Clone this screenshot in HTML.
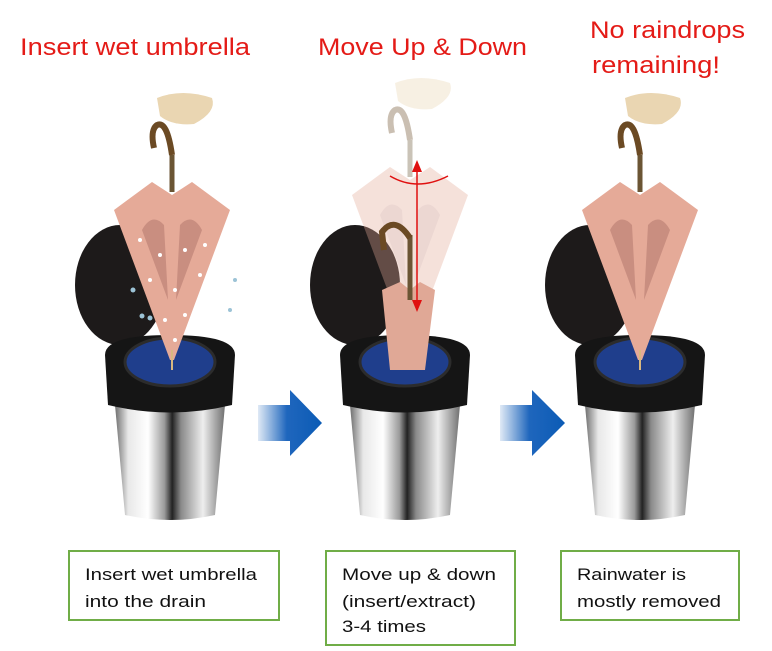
<!DOCTYPE html>
<html><head><style>
html,body{margin:0;padding:0;background:#fff;}
svg{display:block;}
text{font-family:"Liberation Sans",sans-serif;}
</style></head><body>
<svg width="772" height="651" viewBox="0 0 772 651" xmlns="http://www.w3.org/2000/svg">
<defs>
<linearGradient id="steel" x1="0" x2="1" y1="0" y2="0">
<stop offset="0" stop-color="#6e6e6e"/><stop offset="0.12" stop-color="#e8e8e8"/><stop offset="0.3" stop-color="#ffffff"/><stop offset="0.45" stop-color="#9a9a9a"/><stop offset="0.52" stop-color="#222"/><stop offset="0.6" stop-color="#8a8a8a"/><stop offset="0.8" stop-color="#eeeeee"/><stop offset="1" stop-color="#707070"/>
</linearGradient>
<linearGradient id="arr" x1="0" x2="1"><stop offset="0" stop-color="#2a6fc0" stop-opacity="0.15"/><stop offset="0.45" stop-color="#1f66bd"/><stop offset="1" stop-color="#0b5bb5"/></linearGradient>
<g id="stand">
<ellipse cx="-50" cy="-125" rx="45" ry="60" fill="#1d1a1a"/>
<path d="M-55 -5 L-45 105 Q0 115 45 105 L55 -5 Z" fill="url(#steel)"/>
<path d="M-65 -55 Q-65 -75 0 -75 Q65 -75 65 -55 L62 -5 Q0 10 -62 -5 Z" fill="#151515"/>
<ellipse cx="0" cy="-48" rx="45" ry="24" fill="#1f3e8c"/>
<ellipse cx="0" cy="-48" rx="45" ry="24" fill="none" stroke="#2c2c2c" stroke-width="3"/>
</g>
<g id="umb">
<path d="M-58 -150 L-20 -178 L0 -165 L20 -178 L58 -150 L2 0 L-2 0 Z" fill="#e5aa98"/>
<path d="M-30 -130 Q-20 -148 -8 -135 L-4 -60 Z M30 -130 Q20 -148 8 -135 L4 -60 Z" fill="#c98e80"/>
<path d="M0 10 L0 -10" stroke="#d8b880" stroke-width="2"/>
<path d="M0 -205 L0 -168" stroke="#6b5534" stroke-width="5"/>
<path d="M0 -205 Q-5 -240 -15 -235 Q-22 -230 -18 -212" stroke="#6b4a24" stroke-width="6" fill="none"/>
<path d="M-15 -262 Q10 -272 40 -262 Q45 -248 22 -236 Q0 -234 -12 -244 Z" fill="#ead6b2"/>
</g>
</defs>
<text x="20" y="55" font-size="24" fill="#e41b17" textLength="230" lengthAdjust="spacingAndGlyphs">Insert wet umbrella</text>
<text x="318" y="55" font-size="24" fill="#e41b17" textLength="209" lengthAdjust="spacingAndGlyphs">Move Up &amp; Down</text>
<text x="590" y="38" font-size="24" fill="#e41b17" textLength="155" lengthAdjust="spacingAndGlyphs">No raindrops</text>
<text x="592" y="73" font-size="24" fill="#e41b17" textLength="128" lengthAdjust="spacingAndGlyphs">remaining!</text>

<use href="#stand" x="170" y="410"/>
<use href="#umb" x="172" y="360"/>
<g fill="#ffffff">
<circle cx="140" cy="240" r="2"/><circle cx="160" cy="255" r="2"/><circle cx="185" cy="250" r="2"/><circle cx="205" cy="245" r="2"/><circle cx="225" cy="235" r="2"/><circle cx="150" cy="280" r="2"/><circle cx="175" cy="290" r="2"/><circle cx="200" cy="275" r="2"/><circle cx="165" cy="320" r="2"/><circle cx="185" cy="315" r="2"/><circle cx="175" cy="340" r="2"/>
</g>
<g fill="#9cc3d6"><circle cx="133" cy="290" r="2.5"/><circle cx="142" cy="316" r="2.5"/><circle cx="150" cy="318" r="2.5"/><circle cx="235" cy="280" r="2"/><circle cx="230" cy="310" r="2"/></g>

<use href="#stand" x="405" y="410"/>
<g opacity="0.35"><use href="#umb" x="410" y="345"/></g>
<path d="M382 290 L400 282 L410 290 L420 282 L435 290 L425 370 L390 370 Z" fill="#e0a896"/>
<path d="M410 300 L410 235" stroke="#6b5534" stroke-width="5"/>
<path d="M410 238 Q395 215 382 232 L384 250" stroke="#6b4a24" stroke-width="6" fill="none"/>
<path d="M417 165 L417 310" stroke="#e01010" stroke-width="1.5"/>
<path d="M412 172 L417 160 L422 172 Z M412 300 L417 312 L422 300 Z" fill="#e01010"/>
<path d="M390 176 Q417 192 448 176" stroke="#e01010" stroke-width="1.5" fill="none"/>

<use href="#stand" x="640" y="410"/>
<use href="#umb" x="640" y="360"/>

<path d="M258 405 L290 405 L290 390 L322 423 L290 456 L290 441 L258 441 Z" fill="url(#arr)"/>
<path d="M500 405 L532 405 L532 390 L565 423 L532 456 L532 441 L500 441 Z" fill="url(#arr)"/>

<rect x="69" y="551" width="210" height="69" fill="#fff" stroke="#70ad47" stroke-width="2"/>
<text x="85" y="580" font-size="17" fill="#111" textLength="172" lengthAdjust="spacingAndGlyphs">Insert wet umbrella</text>
<text x="85" y="607" font-size="17" fill="#111" textLength="121" lengthAdjust="spacingAndGlyphs">into the drain</text>
<rect x="326" y="551" width="189" height="94" fill="#fff" stroke="#70ad47" stroke-width="2"/>
<text x="342" y="580" font-size="17" fill="#111" textLength="154" lengthAdjust="spacingAndGlyphs">Move up &amp; down</text>
<text x="342" y="607" font-size="17" fill="#111" textLength="134" lengthAdjust="spacingAndGlyphs">(insert/extract)</text>
<text x="342" y="632" font-size="17" fill="#111" textLength="84" lengthAdjust="spacingAndGlyphs">3-4 times</text>
<rect x="561" y="551" width="178" height="69" fill="#fff" stroke="#70ad47" stroke-width="2"/>
<text x="577" y="580" font-size="17" fill="#111" textLength="109" lengthAdjust="spacingAndGlyphs">Rainwater is</text>
<text x="577" y="607" font-size="17" fill="#111" textLength="144" lengthAdjust="spacingAndGlyphs">mostly removed</text>
</svg>
</body></html>
